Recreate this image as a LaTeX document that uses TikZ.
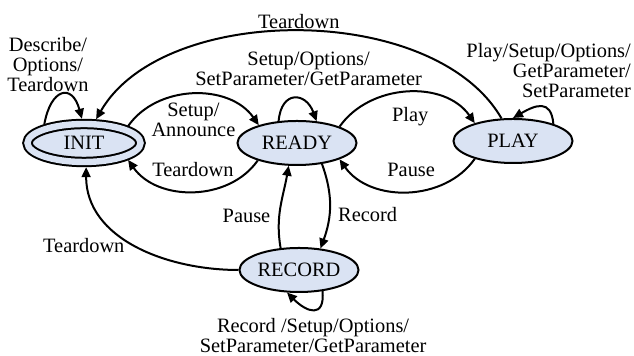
\documentclass[tikz,border=0pt]{standalone}
\usepackage{fontspec}
\setmainfont{Liberation Serif}
\usepackage{tikz}
\usetikzlibrary{positioning}
\usetikzlibrary{arrows.meta,shapes.geometric}

\definecolor{stfill}{RGB}{218,227,243}

\tikzset{
	st/.style={ellipse, draw, fill=stfill, line width=1pt,
		minimum width=59.5pt, minimum height=22pt, inner sep=0pt},
	initst/.style={st, minimum width=56.5pt, minimum height=19pt,
		double=stfill, double distance=3.2pt, outer sep=2.6pt},
	lbl/.style={align=center, inner sep=1pt}
}

\begin{document}
\begin{tikzpicture}[x=0.5pt, y=0.5pt, on grid, line width=1pt,
		>={Triangle[length=5pt,width=4.5pt]},
		font=\fontsize{10.2}{10}\selectfont]
		\useasboundingbox (0,0) rectangle (634,-356);

		\node[initst] (init) at (84,-143) {INIT};
		\node[st] (ready) [right = 106.5pt of init] {READY};
		\node[st] (play) [right = 108pt of ready, yshift=1pt] {PLAY};
		\node[st] (record) [below = 63.5pt of ready, xshift=1pt] {RECORD};

		% self loops
		\draw[->] (init.155) to [out=80,in=105,looseness=2.5] node [lbl,above,xshift=-7pt]{Describe/\\Options/\\Teardown} (init.95) ;
		\draw[->] (ready.130) to [out=85,in=110,looseness=2.1] node [lbl,above=5pt,xshift=7pt]{Setup/Options/\\SetParameter/GetParameter} (ready.48) ;
		\draw[->] (play.23) to [out=95,in=30,looseness=1.6] node [lbl,above=3pt,xshift=4pt,align=right]{Play/Setup/Options/\\GetParameter/\\SetParameter} (play.90) ;
		\draw[->] (record.-42) to [out=-85,in=-45,looseness=2] node [lbl,below=3pt]{Record /Setup/Options/\\SetParameter/GetParameter} (record.-118) ;

		% init and ready
		\draw[->] (init.21) to [out=55,in=125] node [lbl,below=3pt]{Setup/\\Announce} (ready.155) ;
		\draw[->] (ready.204) to [out=235,in=305] node [lbl,above=6pt]{Teardown} (init.-21) ;

		% ready and play
		\draw[->] (ready.21) to [out=55,in=125] node [lbl,below=6pt,xshift=1.5pt]{Play} (play.155) ;
		\draw[->] (play.205) to [out=235,in=305] node [lbl,above=6pt,xshift=2pt]{Pause} (ready.-21) ;

		% ready and record
		\draw[->] (ready.-40) to [out=-70,in=70] node [lbl,right=3pt,pos=0.6]{Record} (record.45) ;
		\draw[->] (record.130) to [out=100,in=-100] node [lbl,left=3pt,pos=0.38]{Pause} (ready.-110) ;

		% back to init
		\draw[->] (play.117) to [out=120,in=60,looseness=0.85] node [lbl,above]{Teardown} (init.63) ;
		\draw[->] (record.west) to [out=180,in=-90] node [lbl,left=4pt]{Teardown} (init.-85) ;
	\end{tikzpicture}
\end{document}
